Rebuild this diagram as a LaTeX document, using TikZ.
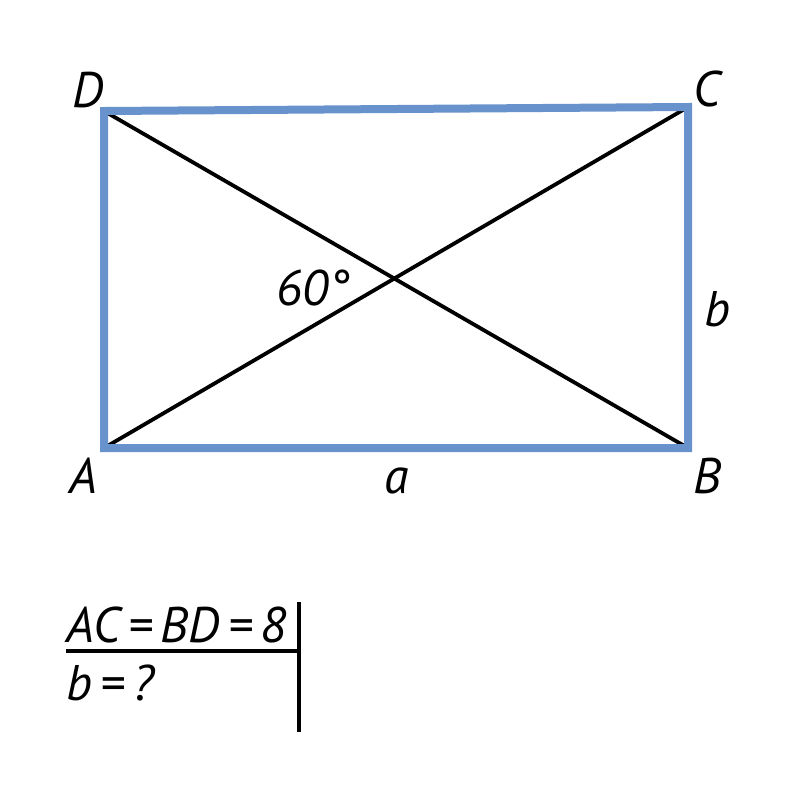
\documentclass[tikz,border=0pt]{standalone}
\usepackage{fontspec}
\setmainfont{PT Sans}
\usetikzlibrary{positioning,calc}
\definecolor{rectblue}{RGB}{104,146,204}
\newcommand{\vlabel}[3]{\node[lbl,anchor=base] (l#1) at (#2) {#3};}

\begin{document}
\begin{tikzpicture}[x=0.5pt, y=-0.5pt,
	side/.style={draw=rectblue, line width=4pt, line join=miter},
	diag/.style={draw=black, line width=1.9pt},
	lbl/.style={inner sep=0pt, font=\fontsize{25}{30}\selectfont\itshape}]
	\useasboundingbox (0,0) rectangle (800,800);
	% corners of the rectangle
	\coordinate (A) at (104,448); \coordinate (B) at (688,448);
	\coordinate (C) at (688,107); \coordinate (D) at (104,111);
	\draw[diag] (A) -- (C); \draw[diag] (D) -- (B);
	\draw[side] (A) -- (B) -- (C) -- (D) -- cycle;
	% vertex and side labels
	\vlabel{A}{83,493}{A} \vlabel{B}{707,493}{B}
	\vlabel{C}{707,106}{C} \vlabel{D}{88,107}{D}
	\vlabel{a}{397,493}{a} \vlabel{b}{718,326}{b}
	\node[lbl,anchor=base west] (ang) at (276,305) {60°};
	% given and unknown
	\node[lbl,anchor=base west] (given) at (66,642) {AC\,=\,BD\,=\,8};
	\node[lbl,anchor=base west] (find) at (66,700) {b\,=\,?};
	\coordinate (bar) at (299,602);
	\draw[line width=1.8pt] (bar) -- ++(0,130);
	\draw[line width=1.8pt] (given.west |- 0,651) -- (bar |- 0,651);
\end{tikzpicture}
\end{document}
